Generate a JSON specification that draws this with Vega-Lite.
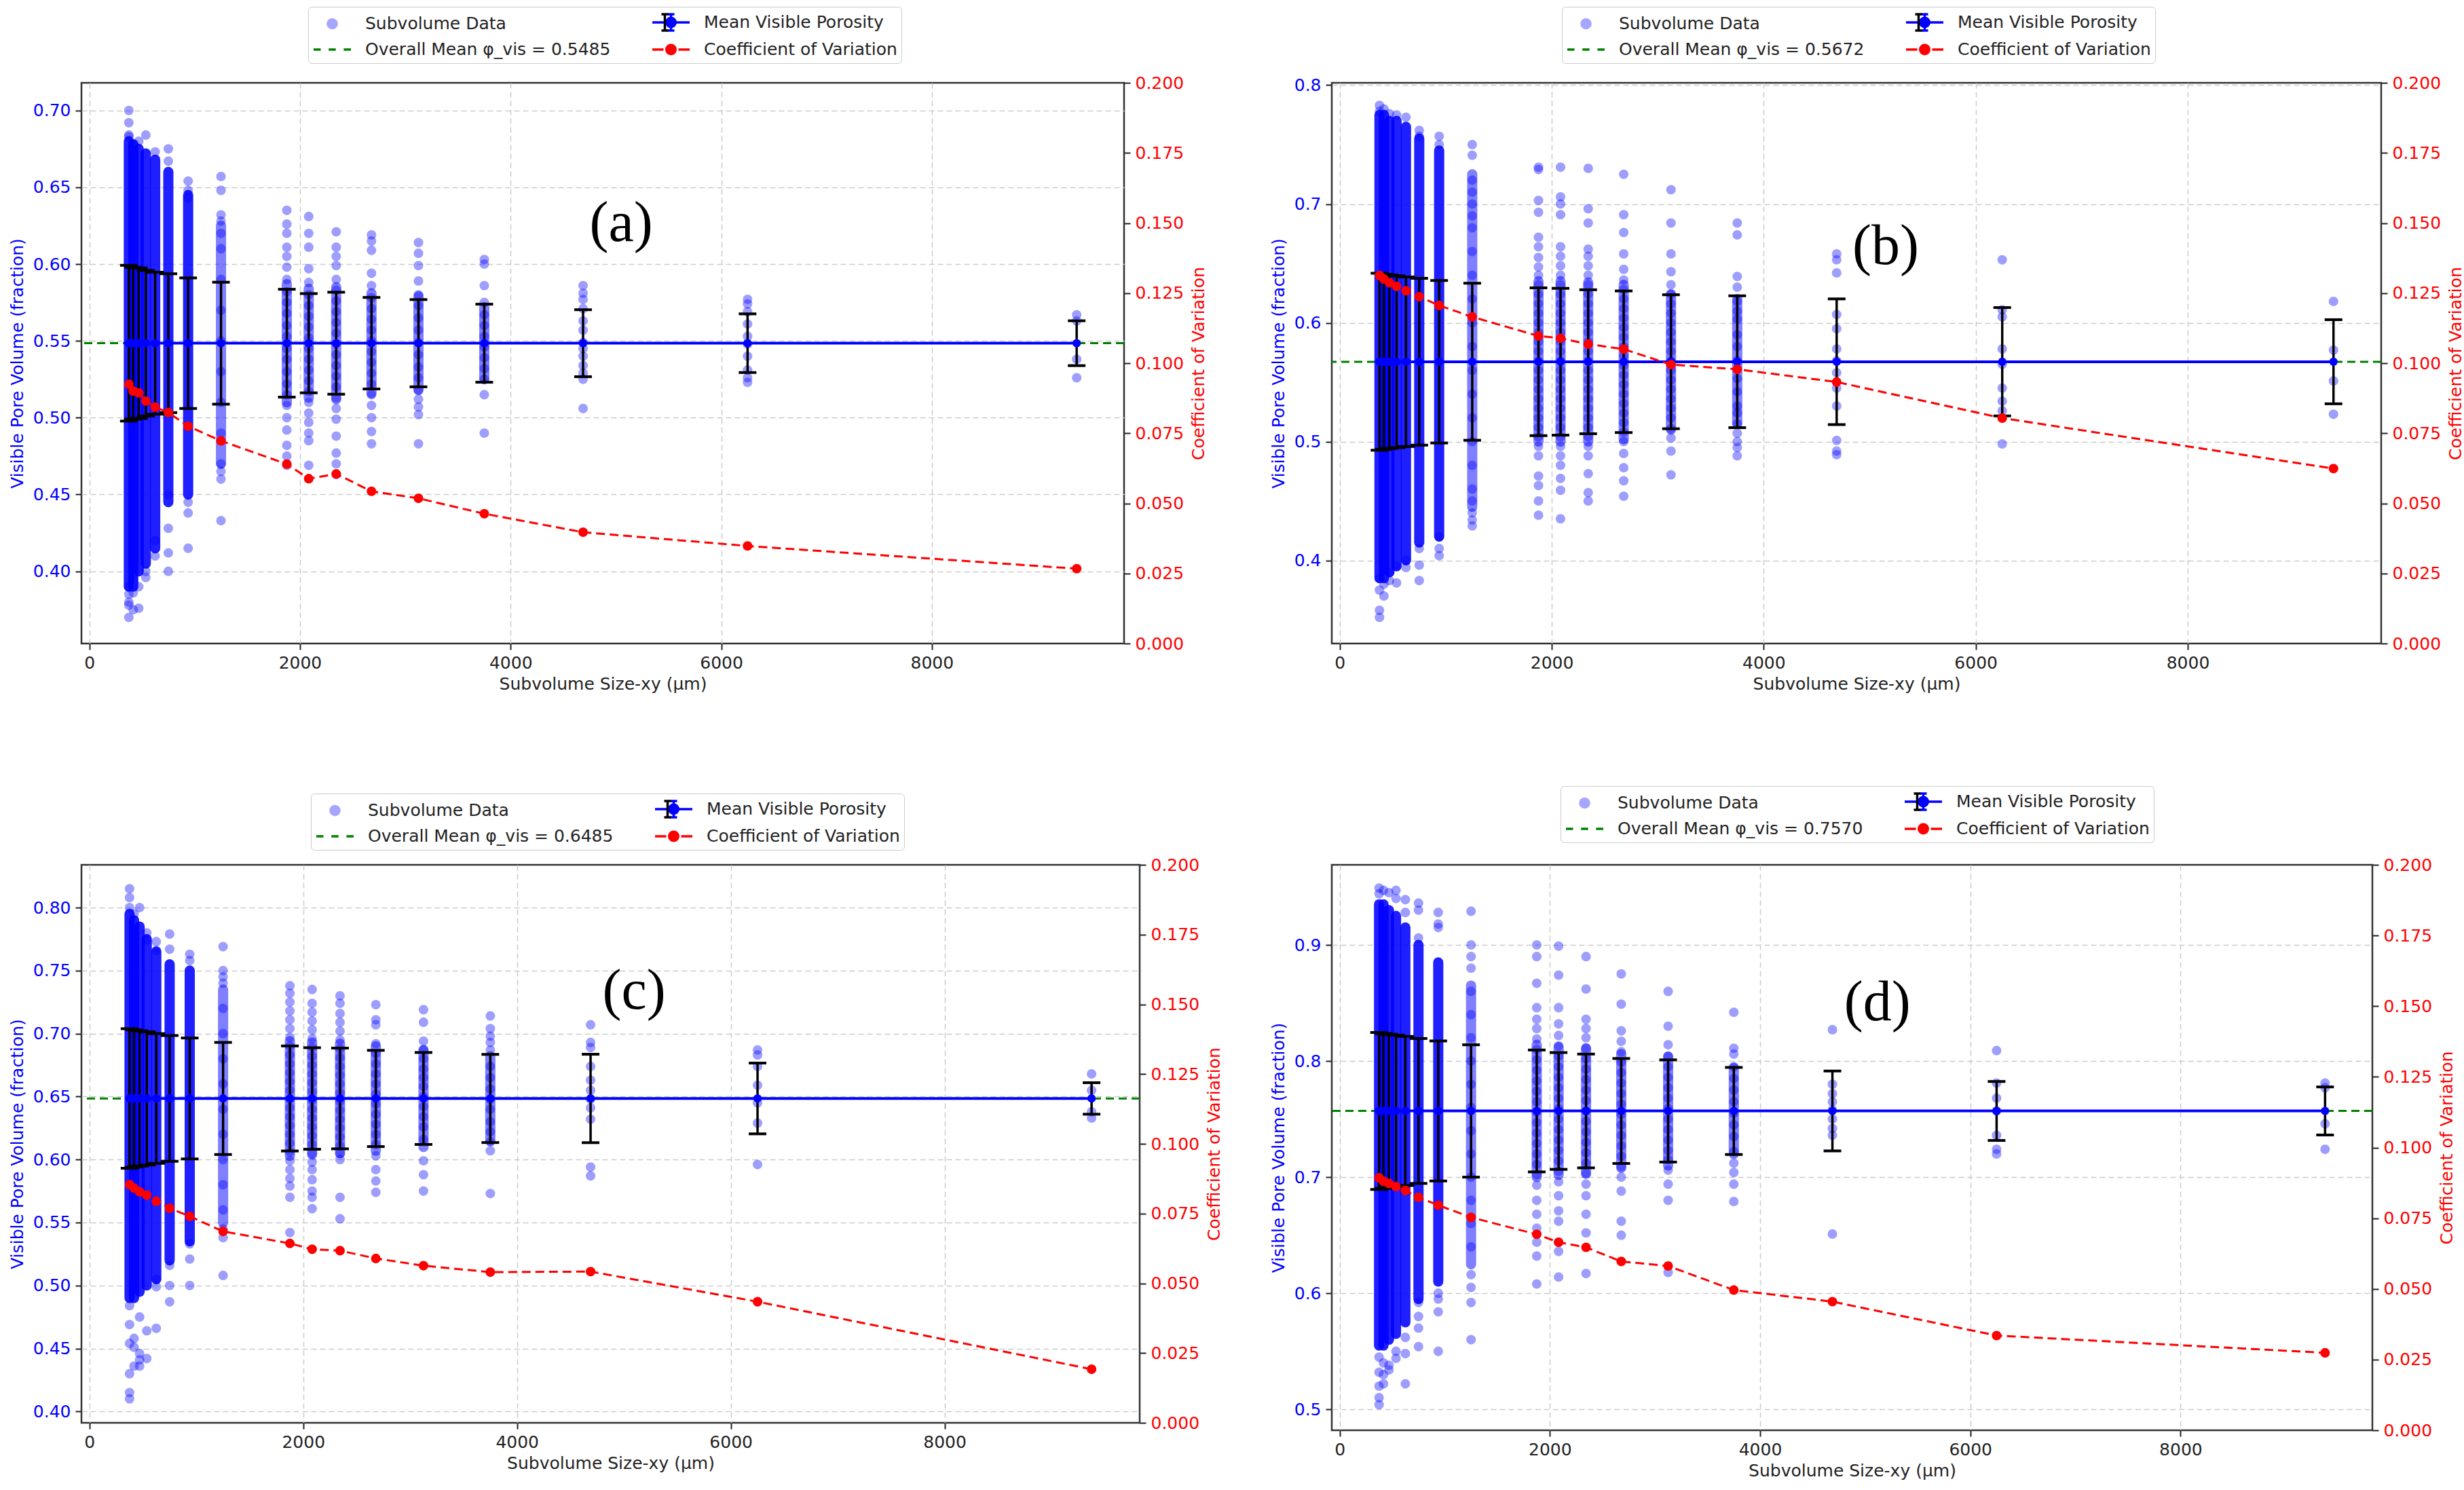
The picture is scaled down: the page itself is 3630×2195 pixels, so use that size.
{
"$schema":"https://vega.github.io/schema/vega-lite/v6.json",
"background":"white",
"padding":{"left":12,"top":8,"right":5,"bottom":5},
"config":{
"font":"DejaVu Sans",
"view":{"stroke":"#333333","strokeWidth":2.5},
"axis":{"labelFont":"DejaVu Sans","titleFont":"DejaVu Sans","labelFontSize":25,"titleFontSize":25,"titleFontWeight":"normal","domain":false,"tickColor":"#222222","tickSize":9,"tickWidth":2,"labelPadding":7,"titlePadding":10,"gridColor":"#cccccc","gridDash":[8,5],"gridWidth":1.5,"labelColor":"#222222","titleColor":"#222222","labelFlush":false,"labelOverlap":false},
"axisX":{"titlePadding":6},
"legend":{"labelFont":"DejaVu Sans","labelFontSize":25,"labelColor":"#222222","labelLimit":1000,"columns":2,"symbolSize":900,"symbolStrokeWidth":3.5,"symbolFillColor":"transparent","symbolStrokeColor":"transparent","labelOffset":44,"columnPadding":54,"rowPadding":4,"padding":6,"strokeColor":"#cccccc","fillColor":"#ffffff","cornerRadius":5}
},
"columns":2,
"spacing":{"row":326,"column":283},
"bounds":"flush",
"resolve":{"scale":{"fill":"independent","stroke":"independent","shape":"independent","opacity":"independent"}},
"concat":[
{
"width":1536,"height":826,
"data":{"values":"s,m,lo,hi,cv,bl,bh,ml,mh\n375,0.5485,0.4978,0.5992,0.0925,0.39,0.68,,\n417,0.5485,0.4991,0.5979,0.09,0.39,0.678,,\n469,0.5485,0.4995,0.5975,0.0894,0.4,0.675,,\n536,0.5485,0.5011,0.5959,0.0865,0.405,0.672,,\n625,0.5485,0.5023,0.5947,0.0843,0.415,0.668,,\n750,0.5485,0.5033,0.5937,0.0824,0.445,0.66,,\n938,0.5485,0.506,0.591,0.0775,0.45,0.645,,\n1250,0.5485,0.5088,0.5882,0.0723,,,0.47,0.625\n1875,0.5485,0.5134,0.5836,0.064,,,0.51,0.587\n2083,0.5485,0.5162,0.5808,0.0588,,,0.513,0.584\n2344,0.5485,0.5153,0.5817,0.0605,,,0.512,0.585\n2679,0.5485,0.5187,0.5783,0.0543,,,0.516,0.581\n3125,0.5485,0.5201,0.5769,0.0518,,,0.518,0.579\n3750,0.5485,0.5231,0.5739,0.0463,,,0.525,0.572\n4688,0.5485,0.5267,0.5703,0.0397,,,,\n6250,0.5485,0.5294,0.5676,0.0348,,,,\n9375,0.5485,0.5339,0.5631,0.0267,,,,","format":{"type":"csv","parse":{"s":"number","m":"number","lo":"number","hi":"number","cv":"number","bl":"number","bh":"number","ml":"number","mh":"number"}}},
"layer":[
{"data":{"values":[{"m":0.5485}]},"mark":{"type":"rule","color":"#008000","strokeWidth":3,"strokeDash":[12,7]},"encoding":{"y":{"field":"m","type":"quantitative","scale":{"domain":[0.353,0.718],"nice":false,"zero":false},"axis":null}}},
{"encoding":{
"x":{"field":"s","type":"quantitative","scale":{"domain":[-75,9825],"nice":false,"zero":false},"axis":{"values":[0,2000,4000,6000,8000],"format":"d","title":"Subvolume Size-xy (µm)","grid":true}},
"y":{"field":"v","type":"quantitative","scale":{"domain":[0.353,0.718],"nice":false,"zero":false},"axis":{"orient":"left","title":"Visible Pore Volume (fraction)","values":[0.4,0.45,0.5,0.55,0.6,0.65,0.7],"format":".2f","labelColor":"#0000ff","titleColor":"#0000ff","grid":true}}},
"layer":[
{"mark":{"type":"rule","color":"#0000ff","opacity":0.88,"strokeWidth":15,"strokeCap":"round"},"encoding":{"y":{"field":"bl"},"y2":{"field":"bh"}}},
{"mark":{"type":"rule","color":"#0000ff","opacity":0.5,"strokeWidth":15,"strokeCap":"round"},"encoding":{"y":{"field":"ml"},"y2":{"field":"mh"}}},
{"data":{"values":"s,v\n375,0.7\n375,0.692\n375,0.684\n375,0.683\n375,0.39\n375,0.385\n375,0.378\n375,0.37\n375,0.38\n417,0.678\n417,0.375\n417,0.386\n417,0.395\n469,0.68\n469,0.376\n469,0.39\n536,0.684\n536,0.396\n536,0.4\n625,0.673\n625,0.41\n625,0.42\n750,0.675\n750,0.667\n750,0.45\n750,0.428\n750,0.412\n750,0.4\n938,0.654\n938,0.648\n938,0.643\n938,0.445\n938,0.438\n938,0.415\n1250,0.657\n1250,0.648\n1250,0.632\n1250,0.628\n1250,0.62\n1250,0.61\n1250,0.59\n1250,0.57\n1250,0.55\n1250,0.53\n1250,0.51\n1250,0.49\n1250,0.47\n1250,0.465\n1250,0.46\n1250,0.433\n1875,0.635\n1875,0.626\n1875,0.62\n1875,0.611\n1875,0.605\n1875,0.598\n1875,0.59\n1875,0.582\n1875,0.575\n1875,0.568\n1875,0.56\n1875,0.553\n1875,0.545\n1875,0.538\n1875,0.53\n1875,0.522\n1875,0.515\n1875,0.508\n1875,0.5\n1875,0.492\n1875,0.482\n1875,0.475\n1875,0.469\n2083,0.631\n2083,0.62\n2083,0.611\n2083,0.597\n2083,0.588\n2083,0.58\n2083,0.573\n2083,0.566\n2083,0.559\n2083,0.552\n2083,0.545\n2083,0.538\n2083,0.531\n2083,0.524\n2083,0.517\n2083,0.51\n2083,0.503\n2083,0.497\n2083,0.49\n2083,0.485\n2083,0.469\n2344,0.621\n2344,0.611\n2344,0.605\n2344,0.599\n2344,0.59\n2344,0.583\n2344,0.576\n2344,0.569\n2344,0.562\n2344,0.555\n2344,0.548\n2344,0.541\n2344,0.534\n2344,0.527\n2344,0.52\n2344,0.513\n2344,0.506\n2344,0.499\n2344,0.488\n2344,0.477\n2344,0.47\n2344,0.463\n2679,0.619\n2679,0.615\n2679,0.609\n2679,0.594\n2679,0.586\n2679,0.578\n2679,0.571\n2679,0.564\n2679,0.557\n2679,0.55\n2679,0.543\n2679,0.536\n2679,0.529\n2679,0.522\n2679,0.515\n2679,0.508\n2679,0.5\n2679,0.491\n2679,0.483\n3125,0.614\n3125,0.607\n3125,0.599\n3125,0.589\n3125,0.58\n3125,0.573\n3125,0.565\n3125,0.557\n3125,0.549\n3125,0.541\n3125,0.533\n3125,0.526\n3125,0.518\n3125,0.512\n3125,0.507\n3125,0.502\n3125,0.483\n3750,0.603\n3750,0.6\n3750,0.586\n3750,0.575\n3750,0.567\n3750,0.56\n3750,0.553\n3750,0.546\n3750,0.539\n3750,0.532\n3750,0.525\n3750,0.515\n3750,0.49\n4688,0.586\n4688,0.581\n4688,0.577\n4688,0.571\n4688,0.563\n4688,0.557\n4688,0.549\n4688,0.545\n4688,0.54\n4688,0.534\n4688,0.529\n4688,0.525\n4688,0.506\n6250,0.577\n6250,0.574\n6250,0.569\n6250,0.561\n6250,0.553\n6250,0.548\n6250,0.54\n6250,0.531\n6250,0.526\n6250,0.523\n9375,0.567\n9375,0.563\n9375,0.538\n9375,0.526","format":{"type":"csv","parse":{"s":"number","v":"number"}}},"mark":{"type":"circle","color":"#0000ff","opacity":0.38,"size":200}},
{"mark":{"type":"rule","color":"#000000","strokeWidth":3.5},"encoding":{"y":{"field":"lo"},"y2":{"field":"hi"}}},
{"mark":{"type":"tick","orient":"horizontal","color":"#000000","size":26,"thickness":4,"opacity":1},"encoding":{"y":{"field":"lo"}}},
{"mark":{"type":"tick","orient":"horizontal","color":"#000000","size":26,"thickness":4,"opacity":1},"encoding":{"y":{"field":"hi"}}},
{"mark":{"type":"line","color":"#0000ff","strokeWidth":4},"encoding":{"y":{"field":"m"}}},
{"mark":{"type":"circle","color":"#0000ff","opacity":1,"size":150},"encoding":{"y":{"field":"m"}}},
{"data":{"values":[{"s":5050,"v":0.626,"t":"(a)"}]},"mark":{"type":"text","font":"Liberation Serif","fontSize":84,"color":"#000000"},"encoding":{"text":{"field":"t"}}},
{"data":{"values":[]},"mark":{"type":"point","filled":true,"opacity":1,"strokeWidth":3.5},"encoding":{
"fill":{"field":"k","type":"nominal","scale":{"domain":["Subvolume Data","Overall Mean φ_vis = 0.5485","Mean Visible Porosity","Coefficient of Variation"],"range":["rgba(0,0,255,0.35)","transparent","#0000ff","#ff0000"]},"legend":{"title":null,"orient":"none","legendX":334,"legendY":-112}},
"stroke":{"field":"k","type":"nominal","scale":{"domain":["Subvolume Data","Overall Mean φ_vis = 0.5485","Mean Visible Porosity","Coefficient of Variation"],"range":["transparent","#008000","#0000ff","#ff0000"]},"legend":{"title":null,"orient":"none","legendX":334,"legendY":-112}},
"shape":{"field":"k","type":"nominal","scale":{"domain":["Subvolume Data","Overall Mean φ_vis = 0.5485","Mean Visible Porosity","Coefficient of Variation"],"range":["M1.383,0A0.55,0.55,0,1,1,0.283,0A0.55,0.55,0,1,1,1.383,0Z","M-1,0H-0.3M0.48,0H1.18M1.96,0H2.667","M-1,0H2.667M0.833,-0.8V0.8M0.5,-0.8H1.167M0.5,0.8H1.167M1.283,0A0.45,0.45,0,1,1,0.383,0A0.45,0.45,0,1,1,1.283,0Z","M-1,0H0.1M1.566,0H2.667M1.283,0A0.45,0.45,0,1,1,0.383,0A0.45,0.45,0,1,1,1.283,0Z"]},"legend":{"title":null,"orient":"none","legendX":334,"legendY":-112}}}},
{"data":{"values":[]},"mark":{"type":"point","filled":false,"color":"#000000","strokeWidth":3.5},"encoding":{
"opacity":{"field":"k2","type":"nominal","scale":{"domain":["eb"],"range":[1]},"legend":{"title":null,"orient":"none","legendX":830,"legendY":-106,"padding":0,"labelOffset":0,"labelExpr":"''","labelOpacity":0,"symbolType":"M0.833,-0.8V0.8M0.5,-0.8H1.167M0.5,0.8H1.167","symbolStrokeColor":"#000000","strokeColor":"transparent","fillColor":"transparent"}}}}
]},
{"encoding":{
"x":{"field":"s","type":"quantitative","scale":{"domain":[-75,9825],"nice":false,"zero":false},"axis":{"values":[0,2000,4000,6000,8000],"format":"d","title":"Subvolume Size-xy (µm)","grid":true}},
"y":{"field":"cv","type":"quantitative","scale":{"domain":[0,0.2],"nice":false,"zero":false},"axis":{"orient":"right","title":"Coefficient of Variation","values":[0,0.025,0.05,0.075,0.1,0.125,0.15,0.175,0.2],"format":".3f","labelColor":"#ff0000","titleColor":"#ff0000","grid":false,"titleAngle":270,"titleBaseline":"top"}}},
"layer":[
{"mark":{"type":"line","color":"#ff0000","strokeWidth":3,"strokeDash":[13,7]}},
{"mark":{"type":"circle","color":"#ff0000","opacity":1,"size":200}}
]}
],
"resolve":{"scale":{"y":"independent"}}
},
{
"width":1546,"height":826,
"data":{"values":"s,m,lo,hi,cv,bl,bh,ml,mh\n375,0.5672,0.4927,0.6417,0.1313,0.385,0.775,,\n417,0.5672,0.4935,0.6409,0.13,0.385,0.775,,\n469,0.5672,0.4942,0.6402,0.1287,0.39,0.77,,\n536,0.5672,0.4949,0.6395,0.1274,0.395,0.77,,\n625,0.5672,0.4958,0.6386,0.1258,0.4,0.765,,\n750,0.5672,0.497,0.6374,0.1237,0.415,0.755,,\n938,0.5672,0.4988,0.6356,0.1206,0.42,0.745,,\n1250,0.5672,0.5011,0.6333,0.1165,,,0.445,0.725\n1875,0.5672,0.505,0.6294,0.1097,,,0.5,0.635\n2083,0.5672,0.5054,0.629,0.1089,,,0.5,0.635\n2344,0.5672,0.5066,0.6278,0.1068,,,0.5,0.634\n2679,0.5672,0.5076,0.6268,0.105,,,0.502,0.632\n3125,0.5672,0.5108,0.6236,0.0995,,,0.51,0.624\n3750,0.5672,0.5117,0.6227,0.0978,,,0.515,0.62\n4688,0.5672,0.5143,0.6201,0.0933,,,,\n6250,0.5672,0.5216,0.6128,0.0804,,,,\n9375,0.5672,0.5318,0.6026,0.0624,,,,","format":{"type":"csv","parse":{"s":"number","m":"number","lo":"number","hi":"number","cv":"number","bl":"number","bh":"number","ml":"number","mh":"number"}}},
"layer":[
{"data":{"values":[{"m":0.5672}]},"mark":{"type":"rule","color":"#008000","strokeWidth":3,"strokeDash":[12,7]},"encoding":{"y":{"field":"m","type":"quantitative","scale":{"domain":[0.33,0.802],"nice":false,"zero":false},"axis":null}}},
{"encoding":{
"x":{"field":"s","type":"quantitative","scale":{"domain":[-75,9825],"nice":false,"zero":false},"axis":{"values":[0,2000,4000,6000,8000],"format":"d","title":"Subvolume Size-xy (µm)","grid":true}},
"y":{"field":"v","type":"quantitative","scale":{"domain":[0.33,0.802],"nice":false,"zero":false},"axis":{"orient":"left","title":"Visible Pore Volume (fraction)","values":[0.4,0.5,0.6,0.7,0.8],"format":".1f","labelColor":"#0000ff","titleColor":"#0000ff","grid":true}}},
"layer":[
{"mark":{"type":"rule","color":"#0000ff","opacity":0.88,"strokeWidth":15,"strokeCap":"round"},"encoding":{"y":{"field":"bl"},"y2":{"field":"bh"}}},
{"mark":{"type":"rule","color":"#0000ff","opacity":0.5,"strokeWidth":15,"strokeCap":"round"},"encoding":{"y":{"field":"ml"},"y2":{"field":"mh"}}},
{"data":{"values":"s,v\n375,0.783\n375,0.778\n375,0.352\n375,0.358\n375,0.375\n375,0.385\n417,0.78\n417,0.38\n417,0.37\n469,0.776\n469,0.383\n469,0.39\n536,0.775\n536,0.381\n536,0.395\n625,0.773\n625,0.394\n625,0.4\n750,0.762\n750,0.757\n750,0.383\n750,0.396\n750,0.41\n938,0.757\n938,0.75\n938,0.404\n938,0.41\n938,0.42\n1250,0.75\n1250,0.741\n1250,0.72\n1250,0.71\n1250,0.7\n1250,0.69\n1250,0.68\n1250,0.66\n1250,0.64\n1250,0.62\n1250,0.6\n1250,0.58\n1250,0.56\n1250,0.54\n1250,0.52\n1250,0.5\n1250,0.48\n1250,0.46\n1250,0.45\n1250,0.44\n1250,0.434\n1250,0.429\n1875,0.731\n1875,0.729\n1875,0.703\n1875,0.693\n1875,0.672\n1875,0.664\n1875,0.655\n1875,0.647\n1875,0.64\n1875,0.632\n1875,0.624\n1875,0.616\n1875,0.608\n1875,0.6\n1875,0.592\n1875,0.584\n1875,0.576\n1875,0.568\n1875,0.56\n1875,0.552\n1875,0.544\n1875,0.536\n1875,0.528\n1875,0.52\n1875,0.512\n1875,0.504\n1875,0.496\n1875,0.488\n1875,0.471\n1875,0.463\n1875,0.45\n1875,0.438\n2083,0.731\n2083,0.706\n2083,0.7\n2083,0.691\n2083,0.664\n2083,0.656\n2083,0.648\n2083,0.64\n2083,0.632\n2083,0.624\n2083,0.616\n2083,0.608\n2083,0.6\n2083,0.592\n2083,0.584\n2083,0.576\n2083,0.568\n2083,0.56\n2083,0.552\n2083,0.544\n2083,0.536\n2083,0.528\n2083,0.52\n2083,0.512\n2083,0.504\n2083,0.496\n2083,0.488\n2083,0.48\n2083,0.469\n2083,0.459\n2083,0.435\n2344,0.73\n2344,0.696\n2344,0.684\n2344,0.662\n2344,0.656\n2344,0.648\n2344,0.64\n2344,0.632\n2344,0.624\n2344,0.616\n2344,0.608\n2344,0.6\n2344,0.592\n2344,0.584\n2344,0.576\n2344,0.568\n2344,0.56\n2344,0.552\n2344,0.544\n2344,0.536\n2344,0.528\n2344,0.52\n2344,0.512\n2344,0.504\n2344,0.496\n2344,0.488\n2344,0.473\n2344,0.457\n2344,0.45\n2679,0.725\n2679,0.691\n2679,0.676\n2679,0.658\n2679,0.645\n2679,0.636\n2679,0.628\n2679,0.62\n2679,0.612\n2679,0.604\n2679,0.596\n2679,0.588\n2679,0.58\n2679,0.572\n2679,0.564\n2679,0.556\n2679,0.548\n2679,0.54\n2679,0.532\n2679,0.524\n2679,0.516\n2679,0.508\n2679,0.5\n2679,0.49\n2679,0.478\n2679,0.467\n2679,0.454\n3125,0.712\n3125,0.684\n3125,0.658\n3125,0.643\n3125,0.632\n3125,0.624\n3125,0.616\n3125,0.608\n3125,0.6\n3125,0.592\n3125,0.584\n3125,0.576\n3125,0.568\n3125,0.56\n3125,0.552\n3125,0.544\n3125,0.536\n3125,0.528\n3125,0.52\n3125,0.511\n3125,0.503\n3125,0.492\n3125,0.472\n3750,0.684\n3750,0.674\n3750,0.639\n3750,0.63\n3750,0.618\n3750,0.61\n3750,0.603\n3750,0.59\n3750,0.58\n3750,0.568\n3750,0.553\n3750,0.542\n3750,0.53\n3750,0.524\n3750,0.515\n3750,0.507\n3750,0.5\n3750,0.495\n3750,0.488\n4688,0.658\n4688,0.653\n4688,0.642\n4688,0.607\n4688,0.595\n4688,0.578\n4688,0.568\n4688,0.558\n4688,0.545\n4688,0.53\n4688,0.501\n4688,0.492\n4688,0.489\n6250,0.653\n6250,0.611\n6250,0.605\n6250,0.578\n6250,0.565\n6250,0.545\n6250,0.534\n6250,0.526\n6250,0.498\n9375,0.618\n9375,0.577\n9375,0.551\n9375,0.523","format":{"type":"csv","parse":{"s":"number","v":"number"}}},"mark":{"type":"circle","color":"#0000ff","opacity":0.38,"size":200}},
{"mark":{"type":"rule","color":"#000000","strokeWidth":3.5},"encoding":{"y":{"field":"lo"},"y2":{"field":"hi"}}},
{"mark":{"type":"tick","orient":"horizontal","color":"#000000","size":26,"thickness":4,"opacity":1},"encoding":{"y":{"field":"lo"}}},
{"mark":{"type":"tick","orient":"horizontal","color":"#000000","size":26,"thickness":4,"opacity":1},"encoding":{"y":{"field":"hi"}}},
{"mark":{"type":"line","color":"#0000ff","strokeWidth":4},"encoding":{"y":{"field":"m"}}},
{"mark":{"type":"circle","color":"#0000ff","opacity":1,"size":150},"encoding":{"y":{"field":"m"}}},
{"data":{"values":[{"s":5150,"v":0.664,"t":"(b)"}]},"mark":{"type":"text","font":"Liberation Serif","fontSize":84,"color":"#000000"},"encoding":{"text":{"field":"t"}}},
{"data":{"values":[]},"mark":{"type":"point","filled":true,"opacity":1,"strokeWidth":3.5},"encoding":{
"fill":{"field":"k","type":"nominal","scale":{"domain":["Subvolume Data","Overall Mean φ_vis = 0.5672","Mean Visible Porosity","Coefficient of Variation"],"range":["rgba(0,0,255,0.35)","transparent","#0000ff","#ff0000"]},"legend":{"title":null,"orient":"none","legendX":339,"legendY":-112}},
"stroke":{"field":"k","type":"nominal","scale":{"domain":["Subvolume Data","Overall Mean φ_vis = 0.5672","Mean Visible Porosity","Coefficient of Variation"],"range":["transparent","#008000","#0000ff","#ff0000"]},"legend":{"title":null,"orient":"none","legendX":339,"legendY":-112}},
"shape":{"field":"k","type":"nominal","scale":{"domain":["Subvolume Data","Overall Mean φ_vis = 0.5672","Mean Visible Porosity","Coefficient of Variation"],"range":["M1.383,0A0.55,0.55,0,1,1,0.283,0A0.55,0.55,0,1,1,1.383,0Z","M-1,0H-0.3M0.48,0H1.18M1.96,0H2.667","M-1,0H2.667M0.833,-0.8V0.8M0.5,-0.8H1.167M0.5,0.8H1.167M1.283,0A0.45,0.45,0,1,1,0.383,0A0.45,0.45,0,1,1,1.283,0Z","M-1,0H0.1M1.566,0H2.667M1.283,0A0.45,0.45,0,1,1,0.383,0A0.45,0.45,0,1,1,1.283,0Z"]},"legend":{"title":null,"orient":"none","legendX":339,"legendY":-112}}}},
{"data":{"values":[]},"mark":{"type":"point","filled":false,"color":"#000000","strokeWidth":3.5},"encoding":{
"opacity":{"field":"k2","type":"nominal","scale":{"domain":["eb"],"range":[1]},"legend":{"title":null,"orient":"none","legendX":835,"legendY":-106,"padding":0,"labelOffset":0,"labelExpr":"''","labelOpacity":0,"symbolType":"M0.833,-0.8V0.8M0.5,-0.8H1.167M0.5,0.8H1.167","symbolStrokeColor":"#000000","strokeColor":"transparent","fillColor":"transparent"}}}}
]},
{"encoding":{
"x":{"field":"s","type":"quantitative","scale":{"domain":[-75,9825],"nice":false,"zero":false},"axis":{"values":[0,2000,4000,6000,8000],"format":"d","title":"Subvolume Size-xy (µm)","grid":true}},
"y":{"field":"cv","type":"quantitative","scale":{"domain":[0,0.2],"nice":false,"zero":false},"axis":{"orient":"right","title":"Coefficient of Variation","values":[0,0.025,0.05,0.075,0.1,0.125,0.15,0.175,0.2],"format":".3f","labelColor":"#ff0000","titleColor":"#ff0000","grid":false,"titleAngle":270,"titleBaseline":"top"}}},
"layer":[
{"mark":{"type":"line","color":"#ff0000","strokeWidth":3,"strokeDash":[13,7]}},
{"mark":{"type":"circle","color":"#ff0000","opacity":1,"size":200}}
]}
],
"resolve":{"scale":{"y":"independent"}}
},
{
"width":1559,"height":822,
"data":{"values":"s,m,lo,hi,cv,bl,bh,ml,mh\n375,0.6485,0.5931,0.7039,0.0854,0.49,0.795,,\n417,0.6485,0.594,0.703,0.0841,0.49,0.79,,\n469,0.6485,0.5948,0.7022,0.0828,0.495,0.785,,\n536,0.6485,0.5956,0.7014,0.0816,0.5,0.775,,\n625,0.6485,0.597,0.7,0.0794,0.505,0.765,,\n750,0.6485,0.5986,0.6984,0.0769,0.52,0.755,,\n938,0.6485,0.6005,0.6965,0.074,0.535,0.75,,\n1250,0.6485,0.604,0.693,0.0686,,,0.55,0.735\n1875,0.6485,0.6068,0.6902,0.0643,,,0.603,0.694\n2083,0.6485,0.6082,0.6888,0.0622,,,0.604,0.693\n2344,0.6485,0.6085,0.6885,0.0617,,,0.605,0.692\n2679,0.6485,0.6103,0.6867,0.0589,,,0.607,0.69\n3125,0.6485,0.612,0.685,0.0563,,,0.61,0.687\n3750,0.6485,0.6135,0.6835,0.054,,,0.615,0.682\n4688,0.6485,0.6134,0.6836,0.0542,,,,\n6250,0.6485,0.6204,0.6766,0.0434,,,,\n9375,0.6485,0.636,0.661,0.0192,,,,","format":{"type":"csv","parse":{"s":"number","m":"number","lo":"number","hi":"number","cv":"number","bl":"number","bh":"number","ml":"number","mh":"number"}}},
"layer":[
{"data":{"values":[{"m":0.6485}]},"mark":{"type":"rule","color":"#008000","strokeWidth":3,"strokeDash":[12,7]},"encoding":{"y":{"field":"m","type":"quantitative","scale":{"domain":[0.391,0.834],"nice":false,"zero":false},"axis":null}}},
{"encoding":{
"x":{"field":"s","type":"quantitative","scale":{"domain":[-75,9825],"nice":false,"zero":false},"axis":{"values":[0,2000,4000,6000,8000],"format":"d","title":"Subvolume Size-xy (µm)","grid":true}},
"y":{"field":"v","type":"quantitative","scale":{"domain":[0.391,0.834],"nice":false,"zero":false},"axis":{"orient":"left","title":"Visible Pore Volume (fraction)","values":[0.4,0.45,0.5,0.55,0.6,0.65,0.7,0.75,0.8],"format":".2f","labelColor":"#0000ff","titleColor":"#0000ff","grid":true}}},
"layer":[
{"mark":{"type":"rule","color":"#0000ff","opacity":0.88,"strokeWidth":15,"strokeCap":"round"},"encoding":{"y":{"field":"bl"},"y2":{"field":"bh"}}},
{"mark":{"type":"rule","color":"#0000ff","opacity":0.5,"strokeWidth":15,"strokeCap":"round"},"encoding":{"y":{"field":"ml"},"y2":{"field":"mh"}}},
{"data":{"values":"s,v\n375,0.815\n375,0.808\n375,0.8\n375,0.484\n375,0.469\n375,0.454\n375,0.43\n375,0.415\n375,0.41\n417,0.795\n417,0.458\n417,0.451\n417,0.436\n469,0.8\n469,0.475\n469,0.446\n469,0.441\n469,0.436\n536,0.78\n536,0.774\n536,0.464\n536,0.442\n625,0.773\n625,0.766\n625,0.466\n625,0.499\n625,0.505\n750,0.779\n750,0.767\n750,0.487\n750,0.5\n750,0.516\n938,0.763\n938,0.758\n938,0.5\n938,0.521\n938,0.533\n1250,0.769\n1250,0.75\n1250,0.745\n1250,0.74\n1250,0.72\n1250,0.7\n1250,0.68\n1250,0.66\n1250,0.64\n1250,0.62\n1250,0.6\n1250,0.58\n1250,0.56\n1250,0.545\n1250,0.538\n1250,0.508\n1875,0.738\n1875,0.732\n1875,0.725\n1875,0.718\n1875,0.711\n1875,0.704\n1875,0.697\n1875,0.69\n1875,0.683\n1875,0.676\n1875,0.669\n1875,0.662\n1875,0.655\n1875,0.648\n1875,0.641\n1875,0.634\n1875,0.627\n1875,0.62\n1875,0.613\n1875,0.606\n1875,0.599\n1875,0.592\n1875,0.585\n1875,0.579\n1875,0.57\n1875,0.542\n2083,0.735\n2083,0.724\n2083,0.717\n2083,0.71\n2083,0.703\n2083,0.696\n2083,0.689\n2083,0.682\n2083,0.675\n2083,0.668\n2083,0.661\n2083,0.654\n2083,0.647\n2083,0.64\n2083,0.633\n2083,0.626\n2083,0.619\n2083,0.612\n2083,0.605\n2083,0.598\n2083,0.592\n2083,0.584\n2083,0.575\n2083,0.57\n2083,0.561\n2344,0.73\n2344,0.724\n2344,0.716\n2344,0.709\n2344,0.702\n2344,0.695\n2344,0.688\n2344,0.681\n2344,0.674\n2344,0.667\n2344,0.66\n2344,0.653\n2344,0.646\n2344,0.639\n2344,0.632\n2344,0.625\n2344,0.618\n2344,0.611\n2344,0.605\n2344,0.6\n2344,0.57\n2344,0.553\n2679,0.723\n2679,0.711\n2679,0.707\n2679,0.692\n2679,0.684\n2679,0.676\n2679,0.668\n2679,0.66\n2679,0.652\n2679,0.644\n2679,0.636\n2679,0.628\n2679,0.62\n2679,0.612\n2679,0.603\n2679,0.592\n2679,0.583\n2679,0.574\n3125,0.719\n3125,0.709\n3125,0.694\n3125,0.687\n3125,0.68\n3125,0.672\n3125,0.665\n3125,0.658\n3125,0.65\n3125,0.642\n3125,0.634\n3125,0.626\n3125,0.616\n3125,0.599\n3125,0.588\n3125,0.575\n3750,0.714\n3750,0.704\n3750,0.698\n3750,0.693\n3750,0.687\n3750,0.674\n3750,0.665\n3750,0.656\n3750,0.648\n3750,0.64\n3750,0.63\n3750,0.622\n3750,0.614\n3750,0.607\n3750,0.573\n4688,0.707\n4688,0.693\n4688,0.689\n4688,0.674\n4688,0.663\n4688,0.655\n4688,0.648\n4688,0.641\n4688,0.632\n4688,0.594\n4688,0.587\n6250,0.687\n6250,0.683\n6250,0.674\n6250,0.659\n6250,0.645\n6250,0.629\n6250,0.596\n9375,0.668\n9375,0.655\n9375,0.638\n9375,0.633","format":{"type":"csv","parse":{"s":"number","v":"number"}}},"mark":{"type":"circle","color":"#0000ff","opacity":0.38,"size":200}},
{"mark":{"type":"rule","color":"#000000","strokeWidth":3.5},"encoding":{"y":{"field":"lo"},"y2":{"field":"hi"}}},
{"mark":{"type":"tick","orient":"horizontal","color":"#000000","size":26,"thickness":4,"opacity":1},"encoding":{"y":{"field":"lo"}}},
{"mark":{"type":"tick","orient":"horizontal","color":"#000000","size":26,"thickness":4,"opacity":1},"encoding":{"y":{"field":"hi"}}},
{"mark":{"type":"line","color":"#0000ff","strokeWidth":4},"encoding":{"y":{"field":"m"}}},
{"mark":{"type":"circle","color":"#0000ff","opacity":1,"size":150},"encoding":{"y":{"field":"m"}}},
{"data":{"values":[{"s":5095,"v":0.733,"t":"(c)"}]},"mark":{"type":"text","font":"Liberation Serif","fontSize":84,"color":"#000000"},"encoding":{"text":{"field":"t"}}},
{"data":{"values":[]},"mark":{"type":"point","filled":true,"opacity":1,"strokeWidth":3.5},"encoding":{
"fill":{"field":"k","type":"nominal","scale":{"domain":["Subvolume Data","Overall Mean φ_vis = 0.6485","Mean Visible Porosity","Coefficient of Variation"],"range":["rgba(0,0,255,0.35)","transparent","#0000ff","#ff0000"]},"legend":{"title":null,"orient":"none","legendX":338,"legendY":-105}},
"stroke":{"field":"k","type":"nominal","scale":{"domain":["Subvolume Data","Overall Mean φ_vis = 0.6485","Mean Visible Porosity","Coefficient of Variation"],"range":["transparent","#008000","#0000ff","#ff0000"]},"legend":{"title":null,"orient":"none","legendX":338,"legendY":-105}},
"shape":{"field":"k","type":"nominal","scale":{"domain":["Subvolume Data","Overall Mean φ_vis = 0.6485","Mean Visible Porosity","Coefficient of Variation"],"range":["M1.383,0A0.55,0.55,0,1,1,0.283,0A0.55,0.55,0,1,1,1.383,0Z","M-1,0H-0.3M0.48,0H1.18M1.96,0H2.667","M-1,0H2.667M0.833,-0.8V0.8M0.5,-0.8H1.167M0.5,0.8H1.167M1.283,0A0.45,0.45,0,1,1,0.383,0A0.45,0.45,0,1,1,1.283,0Z","M-1,0H0.1M1.566,0H2.667M1.283,0A0.45,0.45,0,1,1,0.383,0A0.45,0.45,0,1,1,1.283,0Z"]},"legend":{"title":null,"orient":"none","legendX":338,"legendY":-105}}}},
{"data":{"values":[]},"mark":{"type":"point","filled":false,"color":"#000000","strokeWidth":3.5},"encoding":{
"opacity":{"field":"k2","type":"nominal","scale":{"domain":["eb"],"range":[1]},"legend":{"title":null,"orient":"none","legendX":834,"legendY":-99,"padding":0,"labelOffset":0,"labelExpr":"''","labelOpacity":0,"symbolType":"M0.833,-0.8V0.8M0.5,-0.8H1.167M0.5,0.8H1.167","symbolStrokeColor":"#000000","strokeColor":"transparent","fillColor":"transparent"}}}}
]},
{"encoding":{
"x":{"field":"s","type":"quantitative","scale":{"domain":[-75,9825],"nice":false,"zero":false},"axis":{"values":[0,2000,4000,6000,8000],"format":"d","title":"Subvolume Size-xy (µm)","grid":true}},
"y":{"field":"cv","type":"quantitative","scale":{"domain":[0,0.2],"nice":false,"zero":false},"axis":{"orient":"right","title":"Coefficient of Variation","values":[0,0.025,0.05,0.075,0.1,0.125,0.15,0.175,0.2],"format":".3f","labelColor":"#ff0000","titleColor":"#ff0000","grid":false,"titleAngle":270,"titleBaseline":"top"}}},
"layer":[
{"mark":{"type":"line","color":"#ff0000","strokeWidth":3,"strokeDash":[13,7]}},
{"mark":{"type":"circle","color":"#ff0000","opacity":1,"size":200}}
]}
],
"resolve":{"scale":{"y":"independent"}}
},
{
"width":1533,"height":833,
"data":{"values":"s,m,lo,hi,cv,bl,bh,ml,mh\n375,0.757,0.6894,0.8246,0.0893,0.555,0.935,,\n417,0.757,0.6903,0.8237,0.0881,0.555,0.935,,\n469,0.757,0.6909,0.8231,0.0873,0.56,0.93,,\n536,0.757,0.6917,0.8223,0.0862,0.565,0.925,,\n625,0.757,0.6928,0.8212,0.0848,0.575,0.915,,\n750,0.757,0.6946,0.8194,0.0824,0.595,0.9,,\n938,0.757,0.6967,0.8173,0.0796,0.61,0.885,,\n1250,0.757,0.7,0.814,0.0753,,,0.625,0.865\n1875,0.757,0.7045,0.8095,0.0693,,,0.7,0.814\n2083,0.757,0.7067,0.8073,0.0665,,,0.702,0.812\n2344,0.757,0.708,0.806,0.0647,,,0.703,0.811\n2679,0.757,0.7118,0.8022,0.0597,,,0.708,0.806\n3125,0.757,0.713,0.801,0.0581,,,0.71,0.804\n3750,0.757,0.7195,0.7945,0.0496,,,0.72,0.794\n4688,0.757,0.7226,0.7914,0.0455,,,,\n6250,0.757,0.7316,0.7824,0.0335,,,,\n9375,0.757,0.7363,0.7777,0.0274,,,,","format":{"type":"csv","parse":{"s":"number","m":"number","lo":"number","hi":"number","cv":"number","bl":"number","bh":"number","ml":"number","mh":"number"}}},
"layer":[
{"data":{"values":[{"m":0.757}]},"mark":{"type":"rule","color":"#008000","strokeWidth":3,"strokeDash":[12,7]},"encoding":{"y":{"field":"m","type":"quantitative","scale":{"domain":[0.482,0.969],"nice":false,"zero":false},"axis":null}}},
{"encoding":{
"x":{"field":"s","type":"quantitative","scale":{"domain":[-75,9825],"nice":false,"zero":false},"axis":{"values":[0,2000,4000,6000,8000],"format":"d","title":"Subvolume Size-xy (µm)","grid":true}},
"y":{"field":"v","type":"quantitative","scale":{"domain":[0.482,0.969],"nice":false,"zero":false},"axis":{"orient":"left","title":"Visible Pore Volume (fraction)","values":[0.5,0.6,0.7,0.8,0.9],"format":".1f","labelColor":"#0000ff","titleColor":"#0000ff","grid":true}}},
"layer":[
{"mark":{"type":"rule","color":"#0000ff","opacity":0.88,"strokeWidth":15,"strokeCap":"round"},"encoding":{"y":{"field":"bl"},"y2":{"field":"bh"}}},
{"mark":{"type":"rule","color":"#0000ff","opacity":0.5,"strokeWidth":15,"strokeCap":"round"},"encoding":{"y":{"field":"ml"},"y2":{"field":"mh"}}},
{"data":{"values":"s,v\n375,0.949\n375,0.944\n375,0.504\n375,0.51\n375,0.52\n375,0.532\n375,0.545\n417,0.947\n417,0.522\n417,0.53\n417,0.54\n469,0.945\n469,0.534\n469,0.538\n536,0.947\n536,0.94\n536,0.544\n536,0.55\n625,0.939\n625,0.928\n625,0.522\n625,0.548\n625,0.562\n750,0.936\n750,0.93\n750,0.906\n750,0.554\n750,0.57\n750,0.58\n750,0.592\n938,0.928\n938,0.918\n938,0.915\n938,0.55\n938,0.584\n938,0.595\n938,0.6\n1250,0.929\n1250,0.9\n1250,0.89\n1250,0.88\n1250,0.86\n1250,0.84\n1250,0.82\n1250,0.8\n1250,0.78\n1250,0.76\n1250,0.74\n1250,0.72\n1250,0.7\n1250,0.68\n1250,0.66\n1250,0.64\n1250,0.616\n1250,0.605\n1250,0.592\n1250,0.56\n1875,0.9\n1875,0.89\n1875,0.867\n1875,0.846\n1875,0.836\n1875,0.828\n1875,0.819\n1875,0.81\n1875,0.801\n1875,0.792\n1875,0.783\n1875,0.774\n1875,0.765\n1875,0.756\n1875,0.747\n1875,0.738\n1875,0.729\n1875,0.72\n1875,0.711\n1875,0.702\n1875,0.693\n1875,0.68\n1875,0.668\n1875,0.656\n1875,0.644\n1875,0.632\n1875,0.608\n2083,0.899\n2083,0.874\n2083,0.846\n2083,0.832\n2083,0.822\n2083,0.813\n2083,0.804\n2083,0.795\n2083,0.786\n2083,0.777\n2083,0.768\n2083,0.759\n2083,0.75\n2083,0.741\n2083,0.732\n2083,0.723\n2083,0.714\n2083,0.705\n2083,0.696\n2083,0.684\n2083,0.671\n2083,0.662\n2083,0.644\n2083,0.636\n2083,0.614\n2344,0.89\n2344,0.862\n2344,0.836\n2344,0.828\n2344,0.82\n2344,0.811\n2344,0.802\n2344,0.793\n2344,0.784\n2344,0.775\n2344,0.766\n2344,0.757\n2344,0.748\n2344,0.739\n2344,0.73\n2344,0.721\n2344,0.712\n2344,0.703\n2344,0.694\n2344,0.684\n2344,0.668\n2344,0.652\n2344,0.617\n2679,0.875\n2679,0.849\n2679,0.826\n2679,0.817\n2679,0.808\n2679,0.799\n2679,0.79\n2679,0.781\n2679,0.772\n2679,0.763\n2679,0.754\n2679,0.745\n2679,0.736\n2679,0.727\n2679,0.718\n2679,0.709\n2679,0.7\n2679,0.688\n2679,0.662\n2679,0.65\n3125,0.86\n3125,0.83\n3125,0.814\n3125,0.804\n3125,0.795\n3125,0.786\n3125,0.777\n3125,0.768\n3125,0.759\n3125,0.75\n3125,0.741\n3125,0.732\n3125,0.723\n3125,0.715\n3125,0.706\n3125,0.694\n3125,0.68\n3125,0.618\n3750,0.842\n3750,0.811\n3750,0.806\n3750,0.795\n3750,0.785\n3750,0.775\n3750,0.765\n3750,0.755\n3750,0.745\n3750,0.735\n3750,0.722\n3750,0.712\n3750,0.704\n3750,0.694\n3750,0.679\n4688,0.827\n4688,0.78\n4688,0.772\n4688,0.765\n4688,0.758\n4688,0.75\n4688,0.742\n4688,0.736\n4688,0.651\n6250,0.809\n6250,0.781\n6250,0.768\n6250,0.757\n6250,0.736\n6250,0.724\n6250,0.72\n9375,0.781\n9375,0.777\n9375,0.746\n9375,0.724","format":{"type":"csv","parse":{"s":"number","v":"number"}}},"mark":{"type":"circle","color":"#0000ff","opacity":0.38,"size":200}},
{"mark":{"type":"rule","color":"#000000","strokeWidth":3.5},"encoding":{"y":{"field":"lo"},"y2":{"field":"hi"}}},
{"mark":{"type":"tick","orient":"horizontal","color":"#000000","size":26,"thickness":4,"opacity":1},"encoding":{"y":{"field":"lo"}}},
{"mark":{"type":"tick","orient":"horizontal","color":"#000000","size":26,"thickness":4,"opacity":1},"encoding":{"y":{"field":"hi"}}},
{"mark":{"type":"line","color":"#0000ff","strokeWidth":4},"encoding":{"y":{"field":"m"}}},
{"mark":{"type":"circle","color":"#0000ff","opacity":1,"size":150},"encoding":{"y":{"field":"m"}}},
{"data":{"values":[{"s":5115,"v":0.85,"t":"(d)"}]},"mark":{"type":"text","font":"Liberation Serif","fontSize":84,"color":"#000000"},"encoding":{"text":{"field":"t"}}},
{"data":{"values":[]},"mark":{"type":"point","filled":true,"opacity":1,"strokeWidth":3.5},"encoding":{
"fill":{"field":"k","type":"nominal","scale":{"domain":["Subvolume Data","Overall Mean φ_vis = 0.7570","Mean Visible Porosity","Coefficient of Variation"],"range":["rgba(0,0,255,0.35)","transparent","#0000ff","#ff0000"]},"legend":{"title":null,"orient":"none","legendX":337,"legendY":-116}},
"stroke":{"field":"k","type":"nominal","scale":{"domain":["Subvolume Data","Overall Mean φ_vis = 0.7570","Mean Visible Porosity","Coefficient of Variation"],"range":["transparent","#008000","#0000ff","#ff0000"]},"legend":{"title":null,"orient":"none","legendX":337,"legendY":-116}},
"shape":{"field":"k","type":"nominal","scale":{"domain":["Subvolume Data","Overall Mean φ_vis = 0.7570","Mean Visible Porosity","Coefficient of Variation"],"range":["M1.383,0A0.55,0.55,0,1,1,0.283,0A0.55,0.55,0,1,1,1.383,0Z","M-1,0H-0.3M0.48,0H1.18M1.96,0H2.667","M-1,0H2.667M0.833,-0.8V0.8M0.5,-0.8H1.167M0.5,0.8H1.167M1.283,0A0.45,0.45,0,1,1,0.383,0A0.45,0.45,0,1,1,1.283,0Z","M-1,0H0.1M1.566,0H2.667M1.283,0A0.45,0.45,0,1,1,0.383,0A0.45,0.45,0,1,1,1.283,0Z"]},"legend":{"title":null,"orient":"none","legendX":337,"legendY":-116}}}},
{"data":{"values":[]},"mark":{"type":"point","filled":false,"color":"#000000","strokeWidth":3.5},"encoding":{
"opacity":{"field":"k2","type":"nominal","scale":{"domain":["eb"],"range":[1]},"legend":{"title":null,"orient":"none","legendX":833,"legendY":-110,"padding":0,"labelOffset":0,"labelExpr":"''","labelOpacity":0,"symbolType":"M0.833,-0.8V0.8M0.5,-0.8H1.167M0.5,0.8H1.167","symbolStrokeColor":"#000000","strokeColor":"transparent","fillColor":"transparent"}}}}
]},
{"encoding":{
"x":{"field":"s","type":"quantitative","scale":{"domain":[-75,9825],"nice":false,"zero":false},"axis":{"values":[0,2000,4000,6000,8000],"format":"d","title":"Subvolume Size-xy (µm)","grid":true}},
"y":{"field":"cv","type":"quantitative","scale":{"domain":[0,0.2],"nice":false,"zero":false},"axis":{"orient":"right","title":"Coefficient of Variation","values":[0,0.025,0.05,0.075,0.1,0.125,0.15,0.175,0.2],"format":".3f","labelColor":"#ff0000","titleColor":"#ff0000","grid":false,"titleAngle":270,"titleBaseline":"top"}}},
"layer":[
{"mark":{"type":"line","color":"#ff0000","strokeWidth":3,"strokeDash":[13,7]}},
{"mark":{"type":"circle","color":"#ff0000","opacity":1,"size":200}}
]}
],
"resolve":{"scale":{"y":"independent"}}
}
]
}
